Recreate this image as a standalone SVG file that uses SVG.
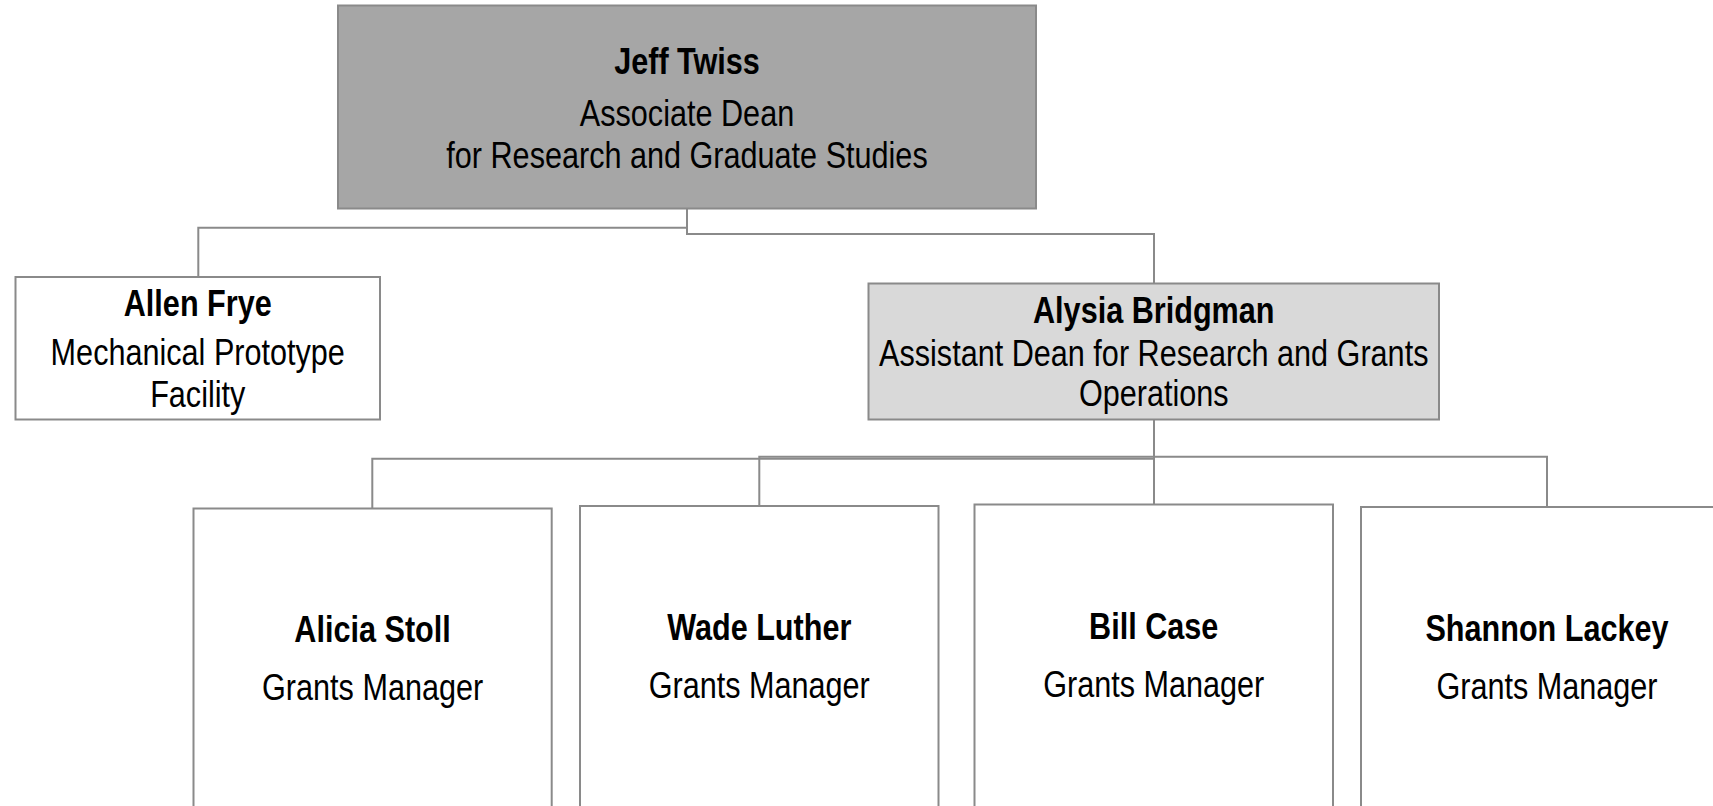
<svg xmlns="http://www.w3.org/2000/svg" width="1713" height="806" viewBox="0 0 1713 806">
<style>
.box{stroke:#8a8a8a;stroke-width:2}
.dark{fill:#a6a6a6}
.light{fill:#d9d9d9}
.white{fill:#ffffff}
.conn{fill:none;stroke:#8a8a8a;stroke-width:2}
text{font-family:'Liberation Sans Narrow','Arial Narrow','Liberation Sans',Arial,sans-serif;font-size:37.33px;fill:#000;text-anchor:middle}
.name{font-weight:bold}
</style>
<rect x="0" y="0" width="1713" height="806" fill="#ffffff"/>
<g id="connectors">
<path class="conn" d="M687 208.5 V227.7 H198.3 V277"/>
<path class="conn" d="M687 208.5 V234 H1154 V283.5"/>
<path class="conn" d="M1154 419.5 V458.7 H372.3 V508.5"/>
<path class="conn" d="M1154 419.5 V456.7 H759.3 V506"/>
<path class="conn" d="M1154 419.5 V504.5"/>
<path class="conn" d="M1154 419.5 V456.7 H1547 V507"/>
</g>
<g id="jeff-twiss">
<rect class="box dark" x="338" y="5.5" width="698" height="203"/>
<text class="name" transform="translate(687 74) scale(0.82 1)">Jeff Twiss</text>
<text transform="translate(687 125.5) scale(0.82 1)">Associate Dean</text>
<text transform="translate(687 167.5) scale(0.82 1)">for Research and Graduate Studies</text>
</g>
<g id="allen-frye">
<rect class="box white" x="15.5" y="277" width="364.5" height="142.5"/>
<text class="name" transform="translate(197.75 315.5) scale(0.82 1)">Allen Frye</text>
<text transform="translate(197.75 364.5) scale(0.82 1)">Mechanical Prototype</text>
<text transform="translate(197.75 406.5) scale(0.82 1)">Facility</text>
</g>
<g id="alysia-bridgman">
<rect class="box light" x="868.5" y="283.5" width="570.5" height="136"/>
<text class="name" transform="translate(1153.75 322.5) scale(0.82 1)">Alysia Bridgman</text>
<text transform="translate(1153.75 365.5) scale(0.82 1)">Assistant Dean for Research and Grants</text>
<text transform="translate(1153.75 406) scale(0.82 1)">Operations</text>
</g>
<g id="alicia-stoll">
<rect class="box white" x="193.5" y="508.5" width="358.2" height="320"/>
<text class="name" transform="translate(372.6 642) scale(0.82 1)">Alicia Stoll</text>
<text transform="translate(372.6 700) scale(0.82 1)">Grants Manager</text>
</g>
<g id="wade-luther">
<rect class="box white" x="580" y="506" width="358.5" height="320"/>
<text class="name" transform="translate(759.25 640) scale(0.82 1)">Wade Luther</text>
<text transform="translate(759.25 698) scale(0.82 1)">Grants Manager</text>
</g>
<g id="bill-case">
<rect class="box white" x="974.5" y="504.5" width="358.5" height="320"/>
<text class="name" transform="translate(1153.75 638.5) scale(0.82 1)">Bill Case</text>
<text transform="translate(1153.75 696.5) scale(0.82 1)">Grants Manager</text>
</g>
<g id="shannon-lackey">
<rect class="box white" x="1361" y="507" width="372" height="320"/>
<text class="name" transform="translate(1547 641) scale(0.82 1)">Shannon Lackey</text>
<text transform="translate(1547 699) scale(0.82 1)">Grants Manager</text>
</g>
</svg>
